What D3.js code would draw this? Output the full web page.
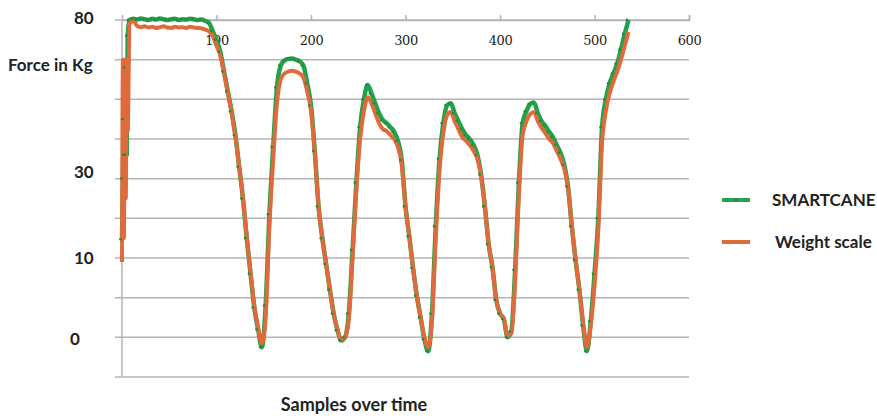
<!DOCTYPE html>
<html>
<head>
<meta charset="utf-8">
<script src="https://cdn.jsdelivr.net/npm/d3@7"></script>
<style>
  body { margin: 0; background: #fff; }
  svg text { font-family: Lato, "Open Sans", sans-serif; font-weight: bold; fill: #222; }
</style>
</head>
<body>
<svg id="chart" width="877" height="416"></svg>
<script>
// sample index for every reading
var samples = [0, 1, 2, 3, 4, 5, 6, 8, 12, 16, 20, 24, 28, 32, 36, 40, 44, 48, 52, 56, 60, 64, 68, 72, 76, 80, 84, 88, 92, 96,
  100, 104, 108, 112, 116, 120, 124, 128, 132, 136, 140, 144, 148, 152, 156, 160, 164, 168, 172, 176, 180, 184, 188, 192, 196,
  200, 204, 208, 212, 216, 220, 224, 228, 232, 236, 240, 244, 248, 252, 256, 260, 264, 268, 272, 276, 280, 284, 288, 292, 296,
  300, 304, 308, 312, 316, 320, 324, 328, 332, 336, 340, 344, 348, 352, 356, 360, 364, 368, 372, 376, 380, 384, 388, 392, 396,
  400, 404, 408, 412, 416, 420, 424, 428, 432, 436, 440, 444, 448, 452, 456, 460, 464, 468, 472, 476, 480, 484, 488, 492, 496,
  500, 504, 508, 512, 516, 520, 524, 528, 532, 536];

var smartcane = [24.7, 40, 55, 46, 68, 46, 76, 80, 80.3, 80.1, 80.4, 80.2, 80.0, 80.3, 80.1, 80.4, 80.2, 80.0, 80.2, 80.3, 80.0, 80.2, 80.1, 80.3, 80.2, 80.0, 80.1, 79.8, 79.3, 77.2,
  75, 72, 67, 62, 57, 51, 43, 35, 25, 16, 7.5, 2, -2.5, 8, 31, 48, 63, 68.5, 69.8, 70.2, 70.3, 70, 69.6, 68.5, 64,
  58.5, 47, 33, 25, 18.5, 12, 6, 1.8, -0.8, 0, 6, 22, 39, 53, 60, 63.6, 61.5, 59, 56.5, 54.8, 54, 53, 51.8, 49.5, 44.7,
  33, 25.5, 17.5, 10.5, 5, -0.5, -3.5, 6, 28, 45, 54, 58.5, 59, 56.5, 54.5, 52.5, 51, 50, 48.5, 46, 41, 33, 23.5, 17.7, 9.5,
  6, 4.6, 0, 1.5, 17, 39, 54, 57, 58.8, 59.2, 56.5, 54.5, 53.3, 51.8, 50.5, 48.5, 46.5, 43.5, 38, 28, 19.5, 12, 3, -3.5, 4,
  16, 30, 53, 60, 64, 66.5, 69, 72.5, 76.5, 80];

var weightScale = [19, 70, 25, 70, 35, 70, 52, 79, 79.8, 78.5, 78.2, 78.4, 78.1, 78.3, 78.0, 78.2, 78.4, 78.1, 78.0, 78.3, 78.1, 78.2, 78.0, 78.3, 78.1, 78.0, 77.9, 77.6, 77.2, 76.0,
  73.5, 71, 66.5, 61.5, 56.5, 50.5, 43, 35, 25.5, 16.5, 8, 2.5, -1.5, 5, 28, 45, 59, 65, 66.5, 67, 67.2, 67, 66.5, 65.5, 62,
  57, 46.5, 33, 25, 18.5, 12, 6, 2, -0.5, 0, 4.5, 20, 37, 50, 57, 60.5, 59, 56.5, 54, 52.5, 52, 51, 50, 48, 43.5,
  33, 25.5, 17.5, 10.5, 5, 0, -2.5, 4, 25, 42, 51.5, 56, 56.8, 54.5, 52.5, 50.5, 49.5, 48.5, 47, 45, 40.5, 33, 23.5, 17.5, 9.5,
  6, 4.8, 0.5, 1, 14, 36, 51, 54.5, 56.3, 56.8, 54.5, 52.8, 51.5, 50, 49, 47, 45, 42.5, 37.5, 28, 19.5, 12, 3.5, -2.5, 3,
  13, 27, 49, 57, 61.5, 64.5, 67, 70, 73.5, 77];

var xTicks = [100, 200, 300, 400, 500, 600];
var yGrid = [80, 70, 60, 50, 40, 30, 20, 10, 0, -10];
// the printed y labels and the levels they sit at in the original figure
var yLabels = ['80', '30', '10', '0'];
var yLabelLevels = [80.5, 41.7, 20, -0.5];
var seriesNames = ['SMARTCANE', 'Weight scale'];

var colors = { smartcane: '#22a24b', weight: '#e06a3c', marker: '#2b8a3e', grid: '#b4b4b4' };

var svg = d3.select('#chart');

var x = d3.scaleLinear().domain([0, 600]).range([122, 689]);
var y = d3.scaleLinear().domain([-10, 80]).range([377, 20]);

// horizontal gridlines
svg.append('g')
  .selectAll('line')
  .data(yGrid)
  .enter()
  .append('line')
  .attr('x1', 115)
  .attr('x2', x(600))
  .attr('y1', function(d) { return y(d); })
  .attr('y2', function(d) { return y(d); })
  .attr('stroke', colors.grid)
  .attr('stroke-width', 1.5);

// left axis line
svg.append('line')
  .attr('x1', x(0)).attr('x2', x(0))
  .attr('y1', y(80)).attr('y2', y(-10))
  .attr('stroke', colors.grid)
  .attr('stroke-width', 1.5);

// x axis sits on the top gridline, labels hang below it
var xAxis = svg.append('g')
  .attr('transform', 'translate(0,' + y(80) + ')')
  .call(d3.axisTop(x).tickValues(xTicks).tickSize(5).tickFormat(d3.format('d')));
xAxis.select('.domain').attr('stroke', colors.grid).attr('stroke-width', 1.5);
xAxis.selectAll('.tick line').attr('stroke', colors.grid).attr('stroke-width', 1.5);
xAxis.selectAll('.tick text')
  .attr('y', 20)
  .attr('dy', '0.35em')
  .style('font-family', '"DejaVu Serif", serif')
  .style('font-weight', 'normal')
  .style('font-size', '13px')
  .style('letter-spacing', '-0.5px')
  .attr('fill', '#333');

// y labels
svg.append('g')
  .selectAll('text')
  .data(yLabels)
  .enter()
  .append('text')
  .attr('x', function(d) { return d === '0' ? 70 : 74; })
  .attr('y', function(d, i) { return y(yLabelLevels[i]); })
  .attr('dy', '0.35em')
  .style('font-size', '17px')
  .text(function(d) { return d; });

svg.append('text')
  .attr('x', 8)
  .attr('y', 65)
  .attr('dy', '0.35em')
  .style('font-size', '17px')
  .text('Force in Kg');

svg.append('text')
  .attr('x', 354)
  .attr('y', 405)
  .attr('dy', '0.35em')
  .attr('text-anchor', 'middle')
  .style('font-size', '18px')
  .text('Samples over time');

var line = d3.line()
  .x(function(d) { return x(d[0]); })
  .y(function(d) { return y(d[1]); })
  .curve(d3.curveMonotoneX);

var greenData = samples.map(function(s, i) { return [s, smartcane[i]]; });
var orangeData = samples.map(function(s, i) { return [s, weightScale[i]]; });

svg.append('path')
  .datum(greenData)
  .attr('d', line)
  .attr('fill', 'none')
  .attr('stroke', colors.smartcane)
  .attr('stroke-width', 4.5)
  .attr('stroke-linejoin', 'round');

svg.append('path')
  .datum(orangeData)
  .attr('d', line)
  .attr('fill', 'none')
  .attr('stroke', colors.weight)
  .attr('stroke-width', 4)
  .attr('stroke-linejoin', 'round');

svg.append('g')
  .selectAll('circle')
  .data(greenData)
  .enter()
  .append('circle')
  .attr('cx', function(d) { return x(d[0]) - 1.5; })
  .attr('cy', function(d) { return y(d[1]); })
  .attr('r', 1.4)
  .attr('fill', colors.marker);

// legend
var legend = svg.append('g')
  .selectAll('g')
  .data(seriesNames)
  .enter()
  .append('g')
  .attr('transform', function(d, i) { return 'translate(722,' + (200 + i * 42) + ')'; });

legend.append('line')
  .attr('x1', 0).attr('x2', 28)
  .attr('stroke', function(d, i) { return i === 0 ? colors.smartcane : colors.weight; })
  .attr('stroke-width', 4);

legend.filter(function(d, i) { return i === 0; })
  .append('circle')
  .attr('cx', 14)
  .attr('r', 2)
  .attr('fill', colors.marker);

legend.append('text')
  .attr('x', function(d, i) { return i === 0 ? 50 : 53; })
  .attr('dy', '0.35em')
  .style('font-size', '17px')
  .text(function(d) { return d; });
</script>
</body>
</html>
